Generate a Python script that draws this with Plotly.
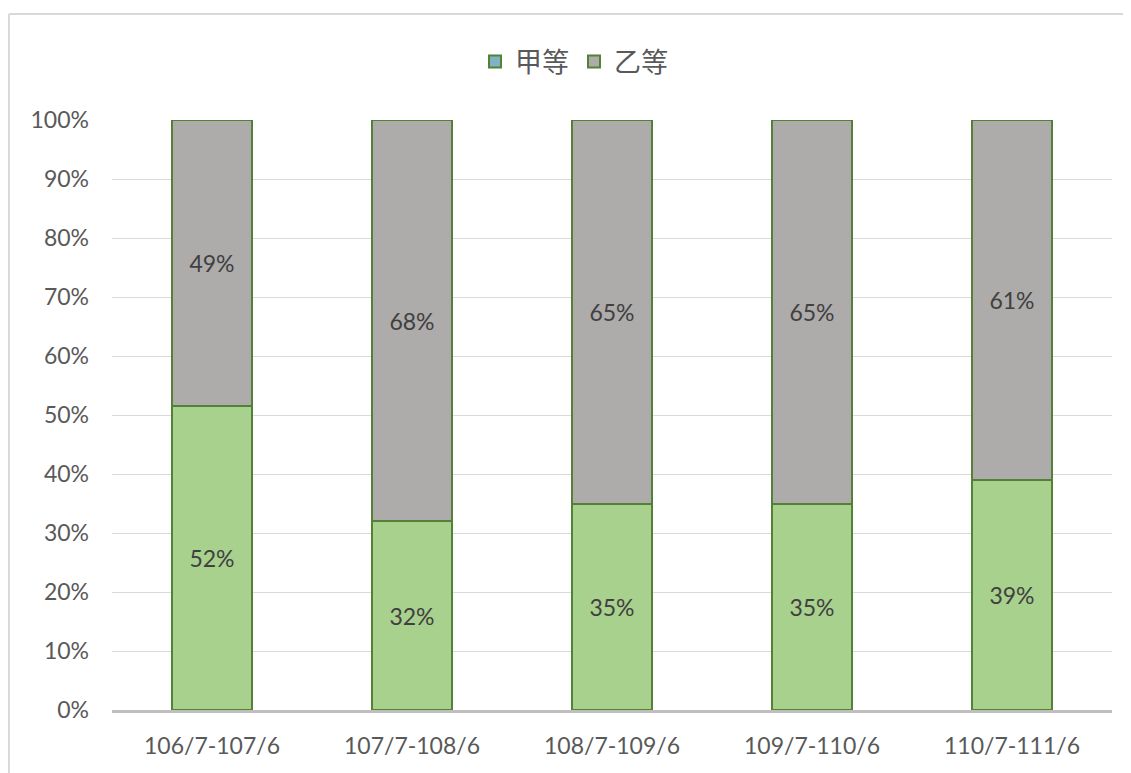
import plotly.graph_objects as go

categories = ["106/7-107/6", "107/7-108/6", "108/7-109/6", "109/7-110/6", "110/7-111/6"]
series_a_name = "甲等"
series_b_name = "乙等"
series_a = [52, 32, 35, 35, 39]
series_b = [49, 68, 65, 65, 61]
y_ticks = [0, 10, 20, 30, 40, 50, 60, 70, 80, 90, 100]
y_tick_text = [f"{v}%" for v in y_ticks]

# page offset (body margin of the html page)
OFF = 8
W, H = 1131, 773
# target plot area in screen pixels
PX0, PX1, PY0, PY1 = 112, 1112, 120, 710
ML, MT = PX0 - OFF, PY0 - OFF
MR = W - (PX1 - OFF)
MB = H - (PY1 - OFF)
PW, PH = PX1 - PX0, PY1 - PY0

def px_x(x):
    return (x - PX0) / PW

def px_y(y):
    return (PY1 - y) / PH

border = "#538135"
green = "#A9D18E"
gray = "#AEABAB"
label_font = dict(family="Lato, Open Sans, sans-serif", size=23, color="#404040")

fig = go.Figure()
fig.add_trace(go.Bar(
    x=categories, y=series_a, name=series_a_name, showlegend=False,
    marker=dict(color=green, line=dict(color=border, width=2)),
    text=[f"{v}%" for v in series_a], textposition="inside",
    insidetextanchor="middle", textangle=0, textfont=label_font,
))
fig.add_trace(go.Bar(
    x=categories, y=series_b, name=series_b_name, showlegend=False,
    marker=dict(color=gray, line=dict(color=border, width=2)),
    text=[f"{v}%" for v in series_b], textposition="inside",
    insidetextanchor="middle", textangle=0, textfont=label_font,
))
# legend entries (Excel shows gradient tint for 甲等)
fig.add_trace(go.Bar(x=categories, y=[None] * len(categories), name=series_a_name,
                     marker=dict(color="#7FB3C3", line=dict(color=border, width=2))))
fig.add_trace(go.Bar(x=categories, y=[None] * len(categories), name=series_b_name,
                     marker=dict(color=gray, line=dict(color=border, width=2))))

fig.update_layout(
    width=W, height=H,
    margin=dict(l=ML, r=MR, t=MT, b=MB),
    barmode="stack", barnorm="percent", bargap=0.6,
    paper_bgcolor="white", plot_bgcolor="white",
    font=dict(family="Lato, Open Sans, sans-serif", color="#595959", size=23),
    legend=dict(orientation="h", x=px_x(574), xanchor="center", y=px_y(62), yanchor="middle",
                font=dict(family="Noto Sans CJK TC", size=27, color="#595959"),
                itemwidth=30, traceorder="normal", bgcolor="rgba(0,0,0,0)"),
    xaxis=dict(showline=True, linecolor="#BFBFBF", linewidth=3, ticks="",
               ticklabelstandoff=13,
               tickfont=dict(size=23, color="#595959"), fixedrange=True),
    yaxis=dict(range=[0, 100], tickmode="array", tickvals=y_ticks, ticktext=y_tick_text,
               showgrid=True, gridcolor="#D9D9D9", gridwidth=1, zeroline=False,
               showline=False, ticklabelstandoff=22,
               tickfont=dict(size=23, color="#595959")),
    shapes=[
        dict(type="line", xref="paper", yref="paper", x0=px_x(9), x1=px_x(1145),
             y0=px_y(14), y1=px_y(14), line=dict(color="#D9D9D9", width=2)),
        dict(type="line", xref="paper", yref="paper", x0=px_x(9), x1=px_x(9),
             y0=px_y(14), y1=px_y(790), line=dict(color="#D9D9D9", width=2)),
    ],
)

fig.write_html("out.html")
